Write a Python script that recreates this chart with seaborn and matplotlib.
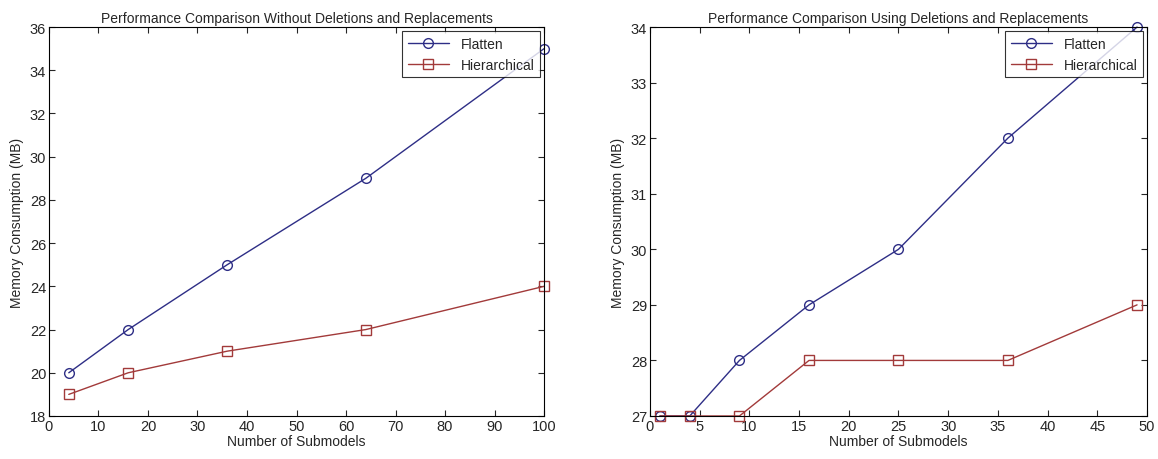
import matplotlib
matplotlib.use("Agg")
import matplotlib.pyplot as plt
import seaborn as sns
import pandas as pd

# ---------- data ----------
x_left = [4, 16, 36, 64, 100]
flatten_left = [20, 22, 25, 29, 35]
hier_left = [19, 20, 21, 22, 24]

x_right = [1, 4, 9, 16, 25, 36, 49]
flatten_right = [27, 27, 28, 29, 30, 32, 34]
hier_right = [27, 27, 27, 28, 28, 28, 29]

series = ["Flatten", "Hierarchical"]
colors = {"Flatten": "#2e2e86", "Hierarchical": "#a23a3a"}
markers = {"Flatten": "o", "Hierarchical": "s"}

sns.set_style("ticks")
plt.rcParams["font.family"] = ["Liberation Sans", "DejaVu Sans"]


def make_df(x, a, b):
    d1 = pd.DataFrame({"x": x, "y": a, "s": "Flatten"})
    d2 = pd.DataFrame({"x": x, "y": b, "s": "Hierarchical"})
    return pd.concat([d1, d2], ignore_index=True)


def draw(ax, df, title, xlim, xticks, ylim, yticks):
    for name in series:
        sub = df[df["s"] == name]
        sns.lineplot(data=sub, x="x", y="y", ax=ax, color=colors[name],
                     marker=markers[name], markersize=7, markerfacecolor="none",
                     markeredgecolor=colors[name], markeredgewidth=1.0,
                     linewidth=1.0, label=name, clip_on=False)
    ax.set_xlim(*xlim)
    ax.set_ylim(*ylim)
    ax.set_xticks(xticks)
    ax.set_yticks(yticks)
    ax.set_title(title, fontsize=10, pad=4)
    ax.set_xlabel("Number of Submodels", fontsize=10, labelpad=1)
    ax.set_ylabel("Memory Consumption (MB)", fontsize=10, labelpad=4)
    ax.tick_params(direction="in", top=True, right=True, labelsize=10.5, length=4, pad=2)
    for sp in ax.spines.values():
        sp.set_visible(True)
        sp.set_color("black")
        sp.set_linewidth(0.8)
    leg = ax.legend(loc="upper right", fontsize=10, frameon=True, fancybox=False,
                    edgecolor="black", borderaxespad=0.3, handlelength=3)
    leg.get_frame().set_linewidth(0.8)


fig = plt.figure(figsize=(11.58, 4.6), dpi=100)
ax1 = fig.add_axes([0.0423, 0.0935, 0.4275, 0.8455])
ax2 = fig.add_axes([0.5613, 0.0935, 0.4292, 0.8455])

draw(ax1, make_df(x_left, flatten_left, hier_left),
     "Performance Comparison Without Deletions and Replacements",
     (0, 100), range(0, 101, 10), (18, 36), range(18, 37, 2))
draw(ax2, make_df(x_right, flatten_right, hier_right),
     "Performance Comparison Using Deletions and Replacements",
     (0, 50), range(0, 51, 5), (27, 34), range(27, 35, 1))

fig.savefig("out.png", dpi=100, facecolor="white")
